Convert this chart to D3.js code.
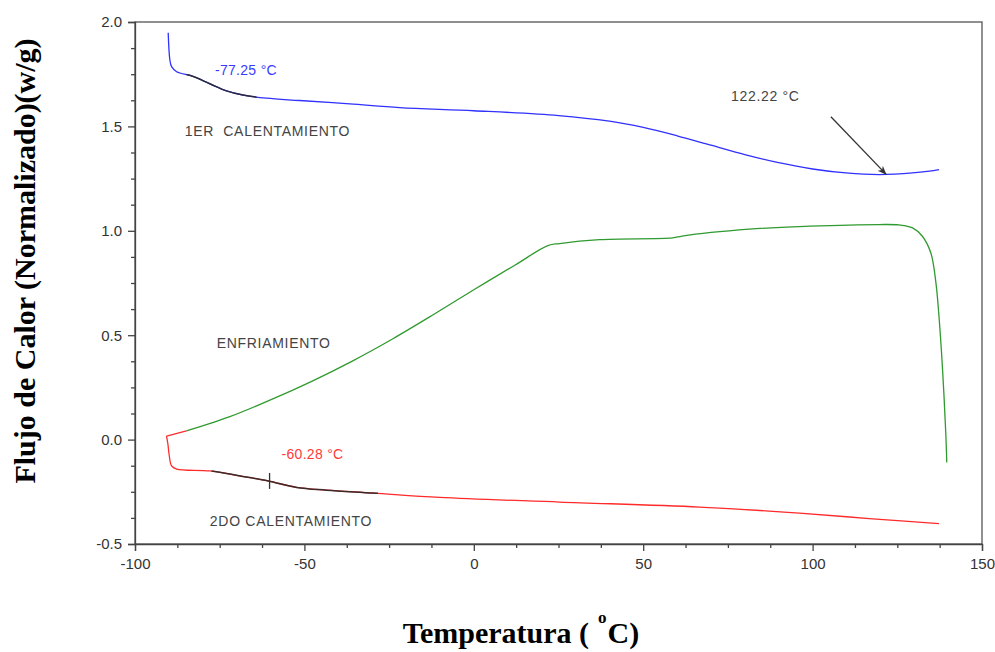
<!DOCTYPE html>
<html lang="es">
<head>
<meta charset="UTF-8">
<title>Flujo de Calor vs Temperatura</title>
<style>
  body { margin: 0; background: #fff; }
  svg { display: block; }
  .tick text { font-family: "Liberation Sans", Arial, sans-serif; font-size: 15px; fill: #333; }
  .axis path, .axis line { stroke: #444; stroke-width: 1.3; }
  .note { font-family: "Liberation Sans", Arial, sans-serif; font-size: 14px; white-space: pre; }
  .title { font-family: "Liberation Serif", "Times New Roman", serif; font-weight: bold; fill: #000; }
</style>
</head>
<body>
<svg width="995" height="652"></svg>
<script src="https://d3js.org/d3.v7.min.js"></script>
<script>
// 1er calentamiento (azul)
const blueT = [-90.2, -89.7, -89.2, -87.7, -82.8, -77.9, -73.0, -68.1, -61.2, -51.4, -36.6, -21.9, 0, 25, 40, 50, 60, 70, 80, 90, 100, 109.8, 119.6, 129.5, 137.3];
const blueV = [1.949, 1.818, 1.786, 1.762, 1.739, 1.704, 1.670, 1.650, 1.635, 1.624, 1.608, 1.590, 1.575, 1.552, 1.525, 1.495, 1.455, 1.410, 1.365, 1.326, 1.296, 1.277, 1.269, 1.277, 1.293];

// enfriamiento (verde)
const greenT = [-84.8, -72.0, -60, -48, -36, -24, -12, 0, 12, 21.85, 25.3, 37.1, 58.7, 61.5, 81.3, 99, 119.6, 125.5, 129.5, 132.4, 134.9, 136.4, 137.3, 138.3, 139.3, 139.6];
const greenV = [0.042, 0.110, 0.190, 0.278, 0.375, 0.482, 0.598, 0.718, 0.834, 0.929, 0.939, 0.958, 0.966, 0.975, 1.008, 1.022, 1.030, 1.028, 1.014, 0.974, 0.894, 0.751, 0.591, 0.352, 0.034, -0.109];

// 2do calentamiento (rojo): tramo inicial recto y curva
const redLeadT = [-84.8, -90.7];
const redLeadV = [0.042, 0.017];
const redT = [-90.7, -90.3, -89.9, -89.2, -87.7, -77.9, -69.0, -60.7, -52.3, -43.5, -29.7, -10.1, 25.3, 66.6, 96.1, 116.7, 137.3];
const redV = [0.017, -0.020, -0.075, -0.126, -0.141, -0.150, -0.174, -0.198, -0.229, -0.242, -0.256, -0.277, -0.299, -0.323, -0.352, -0.378, -0.402];

// tramos analizados (Tg)
const blueTgRange = [-84.8, -64.1];
const redTgRange = [-77.4, -28.3];
const redTgMark = { t: -60.28, v: -0.198 };

// flecha del minimo
const arrowFrom = { t: 105.4, v: 1.546 };
const arrowTo = { t: 121.8, v: 1.269 };

// etiquetas
const noteText = ["-77.25 °C", "1ER  CALENTAMIENTO", "122.22 °C", "ENFRIAMIENTO", "-60.28 °C", "2DO CALENTAMIENTO"];
const noteT = [-76.4, -85.3, 75.9, -75.9, -56.75, -77.9];
const noteV = [1.747, 1.452, 1.624, 0.440, -0.094, -0.4125];
const noteColor = ["#3a3aff", "#444", "#444", "#444", "#ff3a3a", "#444"];

const xTicks = [-100, -50, 0, 50, 100, 150];
const yTicks = [-0.5, 0.0, 0.5, 1.0, 1.5, 2.0];

const svg = d3.select("svg");
const x = d3.scaleLinear().domain([-100, 150]).range([135, 982]);
const y = d3.scaleLinear().domain([-0.5, 2.0]).range([544, 22]);

const xMinor = d3.range(-100, 150.01, 12.5).filter(d => !xTicks.includes(d));
const yMinor = d3.range(-0.5, 2.001, 0.125).filter(d => !yTicks.some(t => Math.abs(t - d) < 1e-6));

// marco
svg.append("rect")
  .attr("x", x(-100)).attr("y", y(2))
  .attr("width", x(150) - x(-100)).attr("height", y(-0.5) - y(2))
  .attr("fill", "none").attr("stroke", "#555").attr("stroke-width", 1.3);

// ejes
svg.append("g").attr("class", "axis")
  .attr("transform", `translate(0,${y(-0.5)})`)
  .call(d3.axisBottom(x).tickValues(xTicks).tickSize(7).tickPadding(7).tickFormat(d => String(d)));
svg.append("g").attr("class", "axis")
  .attr("transform", `translate(0,${y(-0.5)})`)
  .call(d3.axisBottom(x).tickValues(xMinor).tickSize(4).tickFormat(""))
  .call(g => g.select(".domain").remove());

svg.append("g").attr("class", "axis")
  .attr("transform", `translate(${x(-100)},0)`)
  .call(d3.axisLeft(y).tickValues(yTicks).tickSize(7).tickPadding(6).tickFormat(d => d.toFixed(1)));
svg.append("g").attr("class", "axis")
  .attr("transform", `translate(${x(-100)},0)`)
  .call(d3.axisLeft(y).tickValues(yMinor).tickSize(4).tickFormat(""))
  .call(g => g.select(".domain").remove());

// curvas
const line = d3.line()
  .x(d => x(d[0]))
  .y(d => y(d[1]))
  .curve(d3.curveCatmullRom.alpha(0.5));
const straight = d3.line()
  .x(d => x(d[0]))
  .y(d => y(d[1]));

const zip = (a, b) => a.map((t, i) => [t, b[i]]);
const blue = zip(blueT, blueV);
const green = zip(greenT, greenV);
const red = zip(redT, redV);
const redLead = zip(redLeadT, redLeadV);

const defs = svg.append("defs");
function clipFor(id, range) {
  defs.append("clipPath").attr("id", id)
    .append("rect")
    .attr("x", x(range[0])).attr("y", 0)
    .attr("width", x(range[1]) - x(range[0])).attr("height", 652);
}
clipFor("clipBlue", blueTgRange);
clipFor("clipRed", redTgRange);

svg.append("path").datum(green)
  .attr("d", line).attr("fill", "none")
  .attr("stroke", "#2f9a2f").attr("stroke-width", 1.3);
svg.append("path").datum(blue)
  .attr("d", line).attr("fill", "none")
  .attr("stroke", "#3030ff").attr("stroke-width", 1.3);
svg.append("path").datum(redLead)
  .attr("d", straight).attr("fill", "none")
  .attr("stroke", "#ff2a2a").attr("stroke-width", 1.3);
svg.append("path").datum(red)
  .attr("d", line).attr("fill", "none")
  .attr("stroke", "#ff2a2a").attr("stroke-width", 1.3);

// tramos en negro
svg.append("path").datum(blue)
  .attr("d", line).attr("fill", "none")
  .attr("clip-path", "url(#clipBlue)")
  .attr("stroke", "#2a2a3a").attr("stroke-width", 1.5);
svg.append("path").datum(red)
  .attr("d", line).attr("fill", "none")
  .attr("clip-path", "url(#clipRed)")
  .attr("stroke", "#3a2a2a").attr("stroke-width", 1.5);

svg.append("line")
  .attr("x1", x(redTgMark.t)).attr("x2", x(redTgMark.t))
  .attr("y1", y(redTgMark.v) - 8).attr("y2", y(redTgMark.v) + 8)
  .attr("stroke", "#333").attr("stroke-width", 1.3);

// flecha
defs.append("marker")
  .attr("id", "arrow")
  .attr("viewBox", "0 0 10 10")
  .attr("refX", 10).attr("refY", 5)
  .attr("markerWidth", 9).attr("markerHeight", 9)
  .attr("markerUnits", "userSpaceOnUse")
  .attr("orient", "auto")
  .append("path")
  .attr("d", "M0,1 L10,5 L0,9 L3,5 Z")
  .attr("fill", "#333");

svg.append("line")
  .attr("x1", x(arrowFrom.t)).attr("y1", y(arrowFrom.v))
  .attr("x2", x(arrowTo.t)).attr("y2", y(arrowTo.v))
  .attr("stroke", "#333").attr("stroke-width", 1.3)
  .attr("marker-end", "url(#arrow)");

// etiquetas
svg.append("g").selectAll("text")
  .data(noteText)
  .join("text")
  .attr("class", "note")
  .attr("x", (d, i) => x(noteT[i]))
  .attr("y", (d, i) => y(noteV[i]))
  .attr("fill", (d, i) => noteColor[i])
  .attr("letter-spacing", (d, i) => noteColor[i] === "#444" ? 0.7 : 0.3)
  .text(d => d);

// titulos
svg.append("text")
  .attr("class", "title")
  .attr("transform", "translate(35,261) rotate(-90)")
  .attr("text-anchor", "middle")
  .attr("font-size", 30)
  .text("Flujo de Calor (Normalizado)(w/g)");

const xt = svg.append("text")
  .attr("class", "title")
  .attr("x", 521).attr("y", 643)
  .attr("text-anchor", "middle")
  .attr("font-size", 30);
xt.append("tspan").text("Temperatura (");
xt.append("tspan").attr("font-size", 17).attr("dy", -20).attr("dx", 9).text("o");
xt.append("tspan").attr("dy", 20).attr("dx", 1).text("C)");
</script>
</body>
</html>
